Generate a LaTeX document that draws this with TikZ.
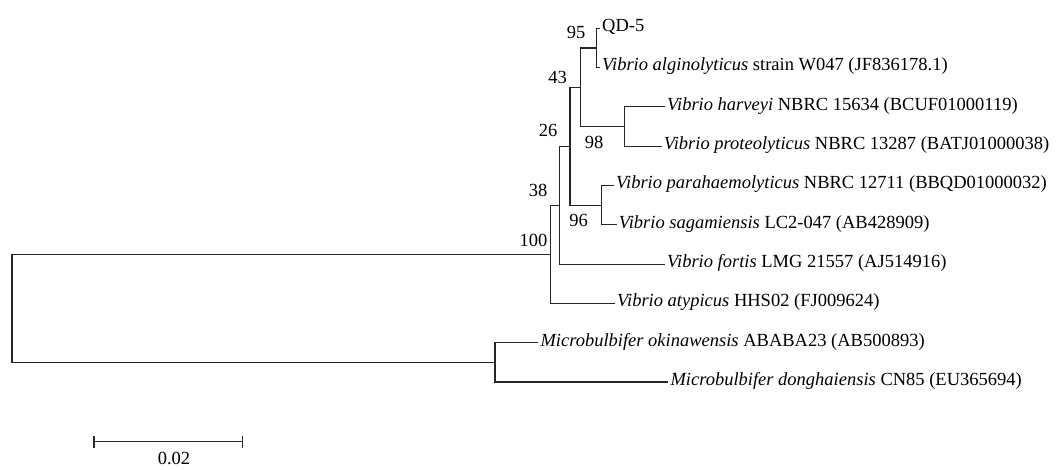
\documentclass[tikz,border=0pt]{standalone}
\usepackage{fontspec}
\setmainfont{Liberation Serif}
\usetikzlibrary{arrows.meta}
\begin{document}
\begin{tikzpicture}[x=1pt,y=-1pt,
  branch/.style={line width=1.2pt,black!85},
  leaf/.style={anchor=west,inner sep=0pt,xshift=2pt,text height=0.66em,text depth=0pt,font=\fontsize{18.5}{22}\selectfont},
  boot/.style={inner sep=0pt,text height=0.66em,text depth=0pt,font=\fontsize{18.5}{22}\selectfont}]
\useasboundingbox (0,0) rectangle (1059,470);
% leaf end points
\coordinate (l0) at (600,28.3);
\coordinate (l1) at (600,67.6);
\coordinate (l2) at (665,106.9);
\coordinate (l3) at (661.7,146.2);
\coordinate (l4) at (614,185.5);
\coordinate (l5) at (616.7,224.8);
\coordinate (l6) at (665,264.1);
\coordinate (l7) at (615,303.4);
\coordinate (l8) at (538.3,342.7);
\coordinate (l9) at (668.3,382.0);
% internal nodes
\coordinate (n95) at (596.7,47.95);
\coordinate (n98) at (624.3,126.55);
\coordinate (n43) at (580.7,87.25);
\coordinate (n96) at (601.7,205.15);
\coordinate (n26) at (570,146.2);
\coordinate (n38) at (559.3,205.15);
\coordinate (n100) at (550.7,254.3);
\coordinate (nM) at (495,362.35);
\coordinate (root) at (12,308.3);
% labels
\node[leaf] (t0) at (l0) {QD-5};
\node[leaf] (t1) at (l1) {\textit{Vibrio alginolyticus} strain W047 (JF836178.1)};
\node[leaf] (t2) at (l2) {\textit{Vibrio harveyi} NBRC 15634 (BCUF01000119)};
\node[leaf] (t3) at (l3) {\textit{Vibrio proteolyticus} NBRC 13287 (BATJ01000038)};
\node[leaf] (t4) at (l4) {\textit{Vibrio parahaemolyticus} NBRC 12711 (BBQD01000032)};
\node[leaf] (t5) at (l5) {\textit{Vibrio sagamiensis} LC2-047 (AB428909)};
\node[leaf] (t6) at (l6) {\textit{Vibrio fortis} LMG 21557 (AJ514916)};
\node[leaf] (t7) at (l7) {\textit{Vibrio atypicus} HHS02 (FJ009624)};
\node[leaf] (t8) at (l8) {\textit{Microbulbifer okinawensis} ABABA23 (AB500893)};
\node[leaf] (t9) at (l9) {\textit{Microbulbifer donghaiensis} CN85 (EU365694)};
% branches
\draw[branch] (n95) |- (l0);
\draw[branch] (n95) |- (l1);
\draw[branch] (n98) |- (l2);
\draw[branch] (n98) |- (l3);
\draw[branch] (n96) |- (l4);
\draw[branch] (n96) |- (l5);
\draw[branch] (n43) |- (n95);
\draw[branch] (n43) |- (n98);
\draw[branch] (n26) |- (n43);
\draw[branch] (n26) |- (n96);
\draw[branch] (n38) |- (n26);
\draw[branch] (n38) |- (l6);
\draw[branch] (n100) |- (n38);
\draw[branch] (n100) |- (l7);
\draw[branch] (nM) |- (l8);
\draw[branch] (nM) |- (l9);
\draw[branch] (root) |- (n100);
\draw[branch] (root) |- (nM);
% bootstrap values
\node[boot] (b95) at (576,35) {95};
\node[boot] (b43) at (557.5,80) {43};
\node[boot] (b26) at (548,133) {26};
\node[boot] (b38) at (538,193) {38};
\node[boot] (b100) at (533.5,243) {100};
\node[boot] (b98) at (594,145) {98};
\node[boot] (b96) at (578.5,222.7) {96};
% scale bar
\coordinate (s1) at (93.3,441.7);
\coordinate (s2) at (243.3,441.7);
\draw[branch,{Bar[width=12pt]}-{Bar[width=12pt]}] (s1) -- (s2);
\node[boot] (sl) at (174,461) {0.02};
\end{tikzpicture}
\end{document}
